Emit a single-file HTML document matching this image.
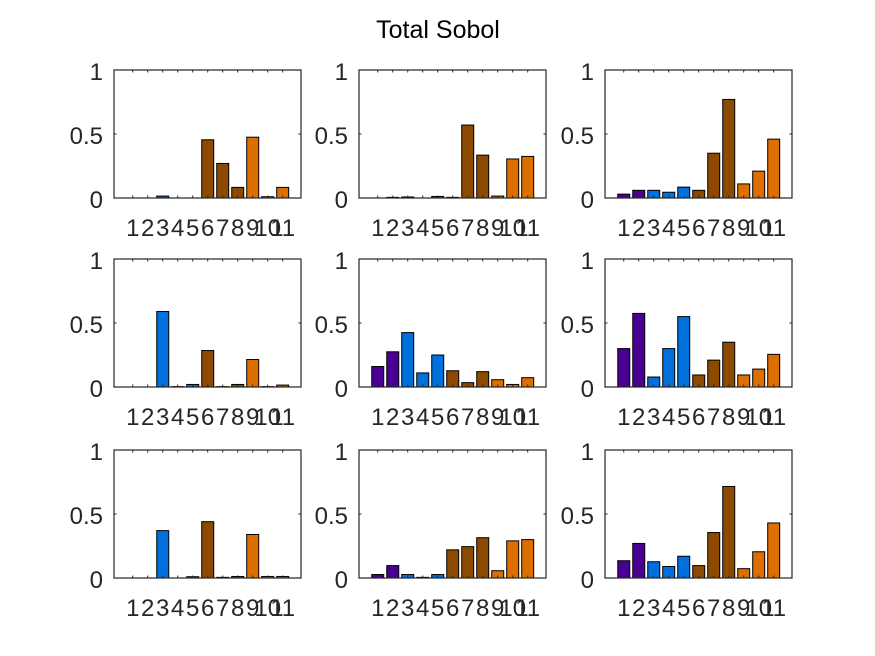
<!DOCTYPE html>
<html><head><meta charset="utf-8"><style>
html,body{margin:0;padding:0;background:#fff;}
svg{display:block;font-family:"Liberation Sans",Arial,sans-serif;}
</style></head><body>
<svg id="chart" width="875" height="656" viewBox="0 0 875 656" xmlns="http://www.w3.org/2000/svg">
<rect width="875" height="656" fill="#fff"/>
<text x="438" y="38" font-size="25" text-anchor="middle" fill="#000">Total Sobol</text>
</svg>
<script>
const categories = [1,2,3,4,5,6,7,8,9,10,11];
const tickLabels = ['1','2','3','4','5','6','7','8','9','10','11'];
const yTicks = [0, 0.5, 1];
const yTickLabels = ['0','0.5','1'];
const barGroups = ['p','p','b','b','b','r','r','r','o','o','o'];
const panel1 = [0,0,0.015,0,0,0.455,0.27,0.083,0.475,0.01,0.083];
const panel2 = [0,0.005,0.008,0,0.012,0.005,0.57,0.335,0.015,0.305,0.325];
const panel3 = [0.03,0.06,0.06,0.045,0.085,0.06,0.35,0.77,0.11,0.21,0.46];
const panel4 = [0,0,0.59,0.003,0.02,0.285,0.003,0.02,0.215,0.003,0.015];
const panel5 = [0.16,0.275,0.425,0.11,0.25,0.127,0.034,0.12,0.057,0.02,0.073];
const panel6 = [0.30,0.575,0.078,0.30,0.55,0.094,0.21,0.35,0.094,0.14,0.255];
const panel7 = [0,0,0.37,0,0.01,0.44,0.005,0.012,0.34,0.012,0.012];
const panel8 = [0.027,0.097,0.027,0.005,0.027,0.22,0.245,0.315,0.057,0.29,0.3];
const panel9 = [0.135,0.27,0.127,0.09,0.17,0.097,0.355,0.715,0.073,0.205,0.43];

const svg = document.getElementById('chart');
const NS = 'http://www.w3.org/2000/svg';
const colors = {p:'#4a0092', b:'#0070dd', r:'#8b4a00', o:'#dd6e00'};
const panels = [panel1,panel2,panel3,panel4,panel5,panel6,panel7,panel8,panel9];
const colX = [114, 359, 605];
const rowY = [70, 259, 450];
const W = 187, H = 128;
const xMin = -0.25, xMax = 12.22;

function mk(tag, attrs){
  const el = document.createElementNS(NS, tag);
  for (const k in attrs) el.setAttribute(k, attrs[k]);
  return el;
}

panels.forEach((vals, pi) => {
  const left = colX[pi % 3], top = rowY[Math.floor(pi / 3)];
  const bottom = top + H;
  const xs = v => left + (v - xMin) / (xMax - xMin) * W;
  const ys = v => bottom - v * H;
  const g = mk('g', {});
  
  
  svg.appendChild(g);
  const bg = mk('rect', {x:left, y:top, width:W, height:H, fill:'#fff'});
  
  
  g.appendChild(bg);
  const bw = 0.8;
  vals.forEach((v, i) => {
    const c = categories[i];
    const x0 = xs(c - bw / 2), x1 = xs(c + bw / 2);
    const y0 = ys(v);
    const r = mk('rect', {x:x0, y:y0, width:x1 - x0, height:Math.max(bottom - y0, 0), fill:colors[barGroups[i]], stroke:'#000', 'stroke-width':1});
    
    
    g.appendChild(r);
  });
  const box = mk('rect', {x:left, y:top, width:W, height:H, fill:'none', stroke:'#262626', 'stroke-width':1.2});
  
  
  g.appendChild(box);
  categories.forEach((c, i) => {
    const x = xs(c);
    g.appendChild(mk('line', {x1:x, x2:x, y1:bottom, y2:bottom - 2.5, stroke:'#262626'}));
    g.appendChild(mk('line', {x1:x, x2:x, y1:top, y2:top + 2.5, stroke:'#262626'}));
    const t = mk('text', {x:x, y:bottom + 38, 'font-size':24, 'text-anchor':'middle', fill:'#262626'});
    
    
    t.textContent = tickLabels[i];
    g.appendChild(t);
  });
  yTicks.forEach((v, i) => {
    const y = ys(v);
    g.appendChild(mk('line', {x1:left, x2:left + 2.5, y1:y, y2:y, stroke:'#262626'}));
    g.appendChild(mk('line', {x1:left + W, x2:left + W - 2.5, y1:y, y2:y, stroke:'#262626'}));
    const t = mk('text', {x:left - 11, y:y + 10, 'font-size':24, 'text-anchor':'end', fill:'#262626'});
    
    
    t.textContent = yTickLabels[i];
    g.appendChild(t);
  });
});
</script>
</body></html>
